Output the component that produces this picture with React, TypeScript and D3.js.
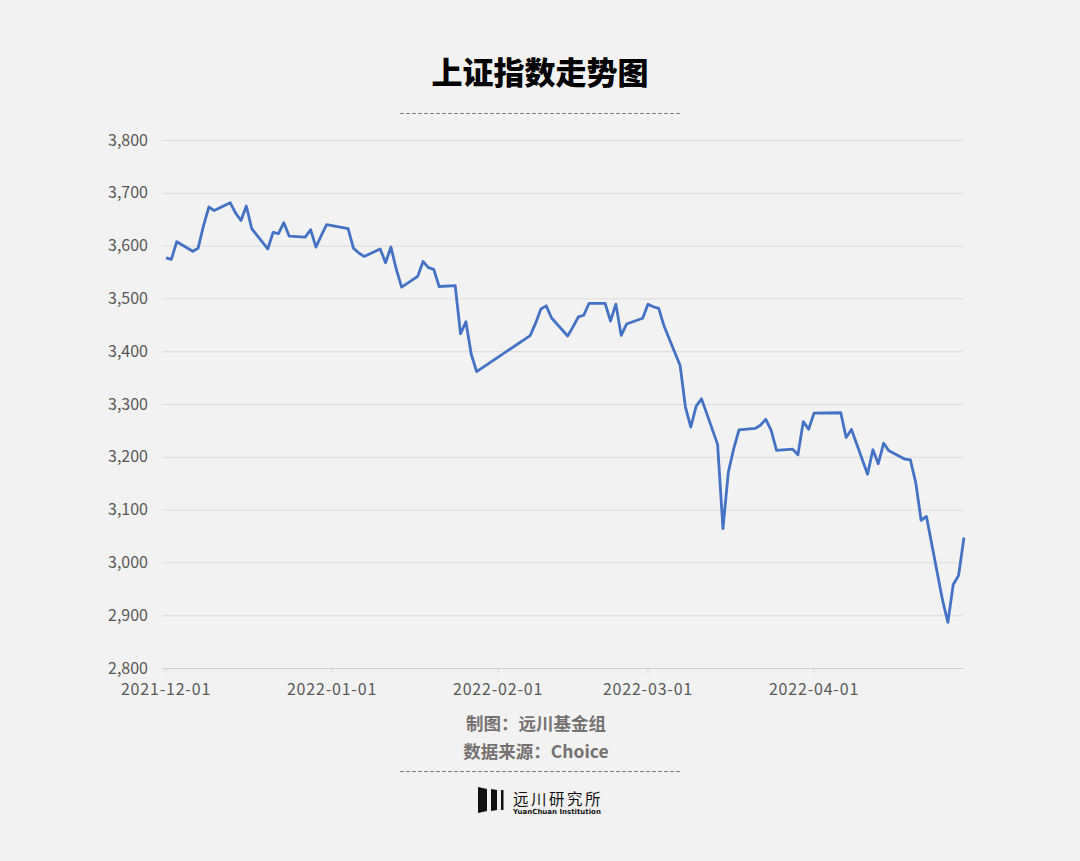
import React from "react";
import * as d3 from "d3";

// 上证指数 daily close, 2021-12-01 .. 2022-04-29
const dates: string[] = [
  "2021-12-01", "2021-12-02", "2021-12-03", "2021-12-06", "2021-12-07", "2021-12-08", "2021-12-09", "2021-12-10",
  "2021-12-13", "2021-12-14", "2021-12-15", "2021-12-16", "2021-12-17", "2021-12-20", "2021-12-21", "2021-12-22",
  "2021-12-23", "2021-12-24", "2021-12-27", "2021-12-28", "2021-12-29", "2021-12-30", "2021-12-31",
  "2022-01-04", "2022-01-05", "2022-01-06", "2022-01-07", "2022-01-10", "2022-01-11", "2022-01-12", "2022-01-13",
  "2022-01-14", "2022-01-17", "2022-01-18", "2022-01-19", "2022-01-20", "2022-01-21", "2022-01-24", "2022-01-25",
  "2022-01-26", "2022-01-27", "2022-01-28",
  "2022-02-07", "2022-02-08", "2022-02-09", "2022-02-10", "2022-02-11", "2022-02-14", "2022-02-15", "2022-02-16",
  "2022-02-17", "2022-02-18", "2022-02-21", "2022-02-22", "2022-02-23", "2022-02-24", "2022-02-25", "2022-02-28",
  "2022-03-01", "2022-03-02", "2022-03-03", "2022-03-04", "2022-03-07", "2022-03-08", "2022-03-09", "2022-03-10",
  "2022-03-11", "2022-03-14", "2022-03-15", "2022-03-16", "2022-03-17", "2022-03-18", "2022-03-21", "2022-03-22",
  "2022-03-23", "2022-03-24", "2022-03-25", "2022-03-28", "2022-03-29", "2022-03-30", "2022-03-31",
  "2022-04-01", "2022-04-06", "2022-04-07", "2022-04-08", "2022-04-11", "2022-04-12", "2022-04-13", "2022-04-14",
  "2022-04-15", "2022-04-18", "2022-04-19", "2022-04-20", "2022-04-21", "2022-04-22", "2022-04-25", "2022-04-26",
  "2022-04-27", "2022-04-28", "2022-04-29",
];

const closes: number[] = [
  3576.89, 3573.84, 3607.43, 3589.31, 3595.09, 3637.57, 3673.04, 3666.35,
  3681.08, 3661.53, 3647.63, 3675.02, 3632.36, 3593.6, 3625.13, 3622.62,
  3643.34, 3618.05, 3615.97, 3630.11, 3597.0, 3619.19, 3639.78,
  3632.33, 3595.18, 3586.08, 3579.54, 3593.52, 3567.44, 3597.43, 3555.26,
  3521.26, 3541.67, 3569.91, 3558.18, 3555.06, 3522.57, 3524.11, 3433.06,
  3455.67, 3394.25, 3361.44,
  3429.58, 3452.63, 3479.95, 3485.91, 3462.95, 3428.88, 3446.09, 3465.04,
  3468.04, 3490.76, 3490.61, 3457.15, 3489.15, 3429.96, 3451.41, 3462.31,
  3488.83, 3484.19, 3481.11, 3447.65, 3372.86, 3293.53, 3256.39, 3296.09,
  3309.75, 3223.53, 3063.97, 3170.71, 3215.04, 3251.07, 3253.69, 3259.86,
  3271.03, 3250.26, 3212.24, 3214.5, 3203.94, 3266.6, 3252.2,
  3282.72, 3283.43, 3236.7, 3251.85, 3167.13, 3213.33, 3186.82, 3225.64,
  3211.24, 3195.52, 3194.03, 3151.05, 3079.81, 3086.92, 2928.51, 2886.43,
  2958.28, 2975.48, 3047.06,
];

const yTicks: number[] = [2800, 2900, 3000, 3100, 3200, 3300, 3400, 3500, 3600, 3700, 3800];
const xTicks: string[] = ["2021-12-01", "2022-01-01", "2022-02-01", "2022-03-01", "2022-04-01"];

const W = 1080;
const H = 861;
const parse = d3.timeParse("%Y-%m-%d");
const axisFont = "'Noto Sans CJK SC', 'Noto Sans', sans-serif";
const cjk = "'Noto Sans CJK SC', sans-serif";

export default function App() {
  const x = d3
    .scaleTime()
    .domain([parse("2021-12-01")!, parse("2022-04-01")!])
    .range([166, 814]);
  const y = d3.scaleLinear().domain([2800, 3800]).range([668, 140]);
  const gridLeft = 162;
  const gridRight = 963;

  const points = dates.map((d, i) => [x(parse(d)!), y(closes[i])] as [number, number]);
  const line = d3.line<[number, number]>()(points) || "";
  const fmt = d3.format(",");

  return (
    <svg
      width={W}
      height={H}
      style={{ position: "absolute", left: 0, top: 0, display: "block" }}
    >
      <rect width={W} height={H} fill="#f2f2f2" />

      <text x={540} y={84} textAnchor="middle" fontFamily={cjk} fontWeight={900} fontSize={31} fill="#000">
        上证指数走势图
      </text>
      <line x1={400} x2={680} y1={113.5} y2={113.5} stroke="#7f7f7f" strokeDasharray="4 2" />

      {yTicks.map((t) => (
        <g key={t}>
          <line
            x1={gridLeft}
            x2={gridRight}
            y1={y(t) + 0.5}
            y2={y(t) + 0.5}
            stroke={t === 2800 ? "#d0d0d0" : "#dcdcdc"}
            strokeWidth={1}
          />
          <text x={148} y={y(t)} dy="0.35em" textAnchor="end" fontFamily={axisFont} fontSize={16} fill="#595959">
            {fmt(t)}
          </text>
        </g>
      ))}

      {xTicks.map((t) => {
        const px = x(parse(t)!);
        return (
          <g key={t}>
            <line x1={px} x2={px} y1={668} y2={673} stroke="#d0d0d0" />
            <text
              x={px}
              y={695}
              textAnchor="middle"
              fontFamily={axisFont}
              fontSize={16}
              letterSpacing={0.8}
              fill="#595959"
            >
              {t}
            </text>
          </g>
        );
      })}

      <path d={line} fill="none" stroke="#4472c4" strokeWidth={2.8} strokeLinejoin="round" />

      <text x={536} y={730} textAnchor="middle" fontFamily={cjk} fontWeight={700} fontSize={17.5} fill="#767171">
        制图：远川基金组
      </text>
      <text x={536} y={758} textAnchor="middle" fontFamily={cjk} fontWeight={700} fontSize={17.5} fill="#767171">
        数据来源：Choice
      </text>
      <line x1={400} x2={680} y1={771.5} y2={771.5} stroke="#7f7f7f" strokeDasharray="4 2" />

      {/* logo */}
      <g fill="#111">
        <polygon points="478,787 487,789 487,811 478,813" />
        <polygon points="491,789 497,790 497,810 491,811" />
        <rect x={501} y={790} width={2.5} height={20} />
      </g>
      <text x={513} y={805} fontFamily={cjk} fontSize={15.5} fill="#111" letterSpacing={2.5}>
        远川研究所
      </text>
      <text x={513} y={814} fontFamily="'DejaVu Sans', sans-serif" fontWeight={700} fontSize={7} fill="#111">
        YuanChuan Institution
      </text>
    </svg>
  );
}
